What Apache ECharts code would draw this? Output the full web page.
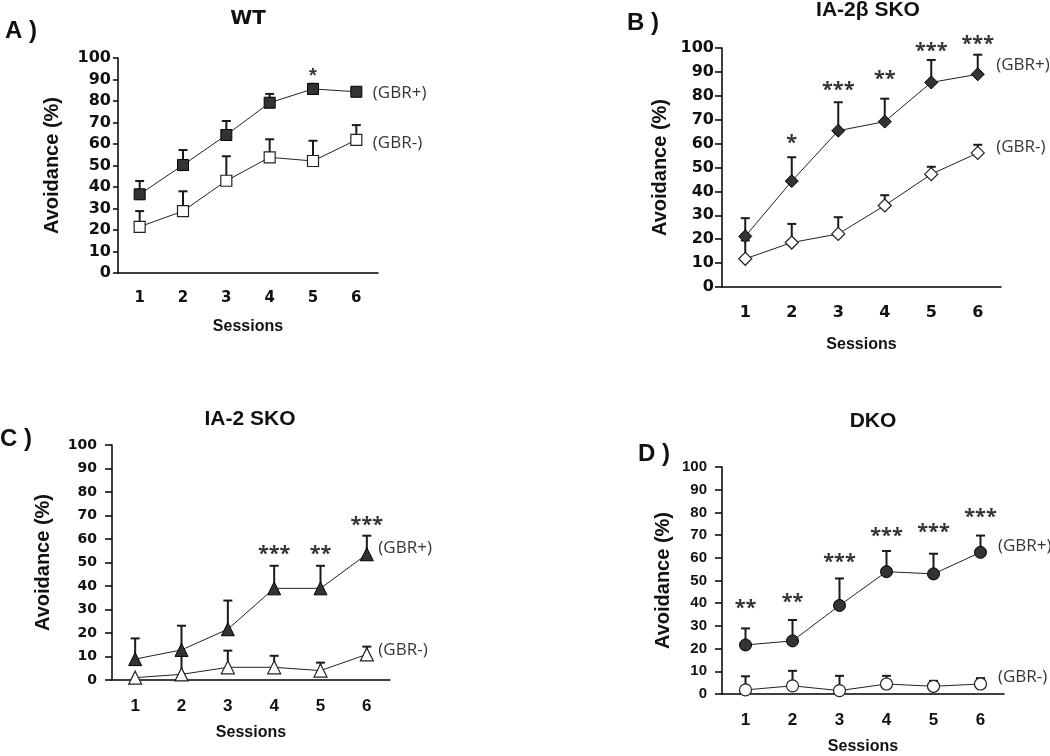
<!DOCTYPE html>
<html>
<head>
<meta charset="utf-8">
<script src="https://cdn.jsdelivr.net/npm/echarts@6/dist/echarts.min.js"></script>
<style>html,body{margin:0;padding:0;background:#fff}#c{width:1050px;height:756px}</style>
</head>
<body>
<div id="c"></div>
<script>
const sessions = ['1', '2', '3', '4', '5', '6'];
const yTicks = { min: 0, max: 100, interval: 10 };

// A) WT
const wtPlusMean = [36.6, 50.2, 64.2, 79.2, 85.6, 84.3];
const wtPlusUpper = [42.8, 57.2, 70.7, 83.3, 88.0, 85.5];
const wtMinusMean = [21.5, 28.8, 42.9, 53.8, 52.1, 61.9];
const wtMinusUpper = [28.8, 38.0, 54.3, 62.2, 61.5, 68.8];
const wtStars = ['', '', '', '', '*', ''];
const wtStarY = [null, null, null, null, 94.1, null];
const wtLabelY = [83.7, 60.5];

// B) IA-2beta SKO
const bPlusMean = [21.2, 44.3, 65.4, 69.2, 85.6, 89.0];
const bPlusUpper = [28.8, 54.3, 77.3, 78.8, 95.0, 97.2];
const bMinusMean = [11.8, 18.6, 22.2, 34.1, 47.2, 56.1];
const bMinusUpper = [19.5, 26.4, 29.2, 38.4, 50.3, 59.5];
const bStars = ['', '*', '***', '**', '***', '***'];
const bStarY = [null, 61.5, 83.4, 88.0, 99.9, 103.0];
const bLabelY = [92.9, 58.6];

// C) IA-2 SKO
const cPlusMean = [8.9, 12.8, 21.6, 39.0, 39.0, 53.5];
const cPlusUpper = [17.7, 23.1, 33.8, 48.6, 48.6, 61.4];
const cMinusMean = [1.0, 2.4, 5.4, 5.4, 4.0, 10.9];
const cMinusUpper = [1.0, 12.0, 12.5, 10.3, 7.4, 14.2];
const cStars = ['', '', '', '***', '**', '***'];
const cStarY = [null, null, null, 54.6, 54.9, 66.9];
const cLabelY = [56.2, 12.8];

// D) DKO
const dPlusMean = [21.6, 23.4, 39.0, 53.9, 52.9, 62.4];
const dPlusUpper = [28.9, 32.6, 50.9, 63.0, 61.8, 69.8];
const dMinusMean = [1.8, 3.6, 1.5, 4.4, 3.4, 4.4];
const dMinusUpper = [7.8, 10.2, 8.0, 8.0, 5.8, 7.0];
const dStars = ['**', '**', '***', '***', '***', '***'];
const dStarY = [39.0, 41.7, 59.5, 70.6, 72.7, 79.2];
const dLabelY = [65.3, 7.5];

const groupNames = ['(GBR+)', '(GBR-)'];

const panels = [
  { title: 'WT', letter: 'A )', plus: wtPlusMean, plusUp: wtPlusUpper, minus: wtMinusMean, minusUp: wtMinusUpper,
    stars: wtStars, starY: wtStarY, labelY: wtLabelY, symbol: 'rect', symSize: 11,
    grid: { left: 118, top: 58, width: 260, height: 215 },
    titlePos: [248, 19], letterPos: [5, 31], tickFont: 'DejaVu Sans', tickSize: 16, xFont: 'DejaVu Sans', xSize: 15,
    yTick: 5, xTick: 5, yMargin: 7, yNameGap: 56, xNameGap: 46, labelDist: 16,
    titleFont: 'DejaVu Sans', titleSize: 20, starFont: 'Liberation Sans', starSize: 20, starWeight: 'bold', starOff: 6 },
  { title: 'IA-2\u03b2 SKO', letter: 'B )', plus: bPlusMean, plusUp: bPlusUpper, minus: bMinusMean, minusUp: bMinusUpper,
    stars: bStars, starY: bStarY, labelY: bLabelY, symbol: 'diamond', symSize: 13,
    grid: { left: 722, top: 48, width: 279, height: 239 },
    titlePos: [868, 10], letterPos: [627, 23], tickFont: 'DejaVu Sans', tickSize: 16, xFont: 'DejaVu Sans', xSize: 16,
    yTick: 7, xTick: 6, yMargin: 8, yNameGap: 52, xNameGap: 50, labelDist: 18,
    titleFont: 'Liberation Sans', titleSize: 21, starFont: 'Noto Sans', starSize: 20, starWeight: 'bold', starOff: 3 },
  { title: 'IA-2 SKO', letter: 'C )', plus: cPlusMean, plusUp: cPlusUpper, minus: cMinusMean, minusUp: cMinusUpper,
    stars: cStars, starY: cStarY, labelY: cLabelY, symbol: 'triangle', symSize: 13,
    grid: { left: 112, top: 445, width: 278, height: 235 },
    titlePos: [250, 419], letterPos: [0, 439], tickFont: 'DejaVu Sans', tickSize: 14, xFont: 'Liberation Sans', xSize: 17,
    yTick: 7, xTick: 5, yMargin: 15, yNameGap: 59, xNameGap: 45, labelDist: 11,
    titleFont: 'Liberation Sans', titleSize: 21, starFont: 'Noto Sans', starSize: 20, starWeight: 'bold', starOff: 3 },
  { title: 'DKO', letter: 'D )', plus: dPlusMean, plusUp: dPlusUpper, minus: dMinusMean, minusUp: dMinusUpper,
    stars: dStars, starY: dStarY, labelY: dLabelY, symbol: 'circle', symSize: 12,
    grid: { left: 722, top: 467, width: 282, height: 228 },
    titlePos: [873, 421], letterPos: [638, 454], tickFont: 'Liberation Sans', tickSize: 15, xFont: 'Liberation Sans', xSize: 17,
    yTick: 7, xTick: 7, yMargin: 15, yNameGap: 49, xNameGap: 45, labelDist: 17,
    titleFont: 'Liberation Sans', titleSize: 21, starFont: 'Noto Sans', starSize: 20, starWeight: 'bold', starOff: 3 }
];

const ink = '#1a1a1a';

function errRender(params, api) {
  const x = api.value(0), m = api.value(1), t = api.value(2);
  if (t <= m) return null;
  const p0 = api.coord([x, m]);
  const p1 = api.coord([x, t]);
  const hw = 4.5;
  return {
    type: 'group',
    children: [
      { type: 'line', shape: { x1: p0[0], y1: p0[1], x2: p1[0], y2: p1[1] }, style: { stroke: ink, lineWidth: 2 } },
      { type: 'line', shape: { x1: p1[0] - hw, y1: p1[1], x2: p1[0] + hw, y2: p1[1] }, style: { stroke: ink, lineWidth: 2 } }
    ]
  };
}

const grids = [], xAxes = [], yAxes = [], series = [], graphics = [];

panels.forEach((p, i) => {
  grids.push(p.grid);
  xAxes.push({
    type: 'category', gridIndex: i, data: sessions, boundaryGap: true,
    name: 'Sessions', nameLocation: 'middle', nameGap: p.xNameGap,
    nameTextStyle: { fontFamily: 'Liberation Sans', fontWeight: 'bold', fontSize: 16, color: '#111' },
    axisLine: { lineStyle: { color: '#000', width: 1.5 } },
    axisTick: { inside: false, length: p.xTick, lineStyle: { color: '#000', width: 1.5 } },
    axisLabel: { margin: 18, fontFamily: p.xFont, fontWeight: 'bold', fontSize: p.xSize, color: '#111' },
    splitLine: { show: false }
  });
  yAxes.push({
    type: 'value', gridIndex: i, min: yTicks.min, max: yTicks.max, interval: yTicks.interval,
    name: 'Avoidance (%)', nameLocation: 'middle', nameGap: p.yNameGap, nameRotate: 90,
    nameTextStyle: { fontFamily: 'Liberation Sans', fontWeight: 'bold', fontSize: 20, color: '#111' },
    axisLine: { show: true, lineStyle: { color: '#000', width: 1.5 } },
    axisTick: { show: true, inside: false, length: p.yTick, lineStyle: { color: '#000', width: 1.5 } },
    axisLabel: { margin: p.yMargin, fontFamily: p.tickFont, fontWeight: 'bold', fontSize: p.tickSize, color: '#111' },
    splitLine: { show: false }
  });

  series.push({
    type: 'custom', xAxisIndex: i, yAxisIndex: i, z: 2, renderItem: errRender, silent: true,
    data: p.plus.map((v, k) => [k, v, p.plusUp[k]])
  });
  series.push({
    type: 'custom', xAxisIndex: i, yAxisIndex: i, z: 2, renderItem: errRender, silent: true,
    data: p.minus.map((v, k) => [k, v, p.minusUp[k]])
  });
  series.push({
    type: 'line', xAxisIndex: i, yAxisIndex: i, z: 3, data: p.minus,
    symbol: p.symbol, symbolSize: p.symSize, showAllSymbol: true,
    lineStyle: { color: '#222', width: 1 },
    itemStyle: { color: '#fff', borderColor: '#222', borderWidth: 1.2 }
  });
  series.push({
    type: 'line', xAxisIndex: i, yAxisIndex: i, z: 4, data: p.plus,
    symbol: p.symbol, symbolSize: p.symSize, showAllSymbol: true,
    lineStyle: { color: '#222', width: 1 },
    itemStyle: { color: '#333', borderColor: '#000', borderWidth: 1 }
  });
  // significance stars
  const starData = [];
  p.stars.forEach((s, k) => {
    if (s) starData.push({ value: [k, p.starY[k]], label: { formatter: s } });
  });
  series.push({
    type: 'scatter', xAxisIndex: i, yAxisIndex: i, z: 5, clip: false, silent: true,
    symbolSize: 1, itemStyle: { color: 'rgba(0,0,0,0)' }, data: starData,
    label: { show: true, position: 'inside', offset: [0, p.starOff], color: '#000',
      fontFamily: p.starFont, fontSize: p.starSize, fontWeight: p.starWeight }
  });
  // group labels
  series.push({
    type: 'scatter', xAxisIndex: i, yAxisIndex: i, z: 5, clip: false, silent: true,
    symbolSize: 1, itemStyle: { color: 'rgba(0,0,0,0)' },
    data: p.labelY.map((y, k) => ({ value: [sessions.length - 1, y], label: { formatter: groupNames[k] } })),
    label: { show: true, position: 'right', distance: p.labelDist, color: '#000',
      fontFamily: 'Open Sans', fontSize: 17 }
  });

  graphics.push({
    type: 'text', x: p.titlePos[0], y: p.titlePos[1],
    style: { text: p.title, textAlign: 'center', textVerticalAlign: 'middle',
      font: 'bold ' + p.titleSize + 'px "' + p.titleFont + '"', fill: '#111' }
  });
  graphics.push({
    type: 'text', x: p.letterPos[0], y: p.letterPos[1],
    style: { text: p.letter, textAlign: 'left', textVerticalAlign: 'middle',
      font: 'bold 24px "Liberation Sans"', fill: '#111' }
  });
});

const chart = echarts.init(document.getElementById('c'), null, { renderer: 'canvas' });
chart.setOption({
  animation: false,
  backgroundColor: '#fff',
  grid: grids,
  xAxis: xAxes,
  yAxis: yAxes,
  series: series,
  graphic: graphics
});
</script>
</body>
</html>
